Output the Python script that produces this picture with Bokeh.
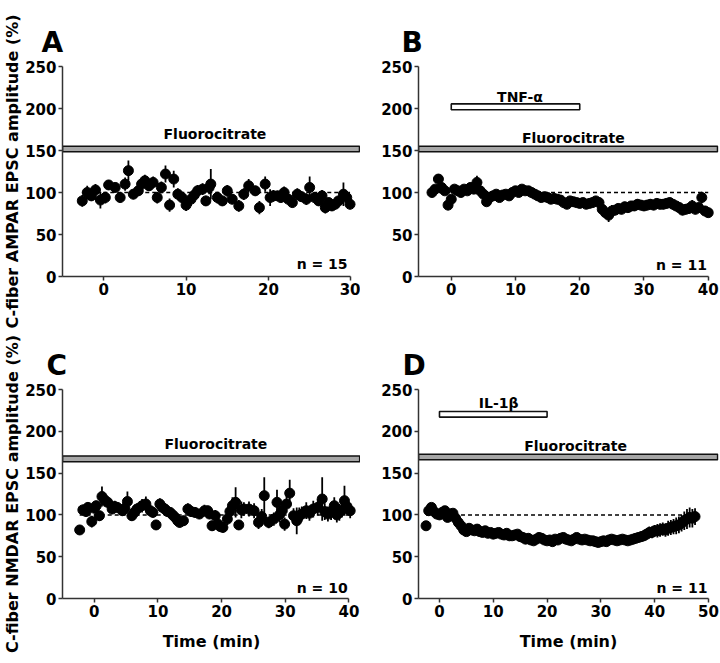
from bokeh.plotting import figure
from bokeh.layouts import column, row
from bokeh.models import FixedTicker, Label, Range1d
from bokeh.embed import file_html
from bokeh.resources import INLINE

FONT = "DejaVu Sans"

# ---------------- data ----------------
BASELINE = 100
Y_TICKS = [0, 50, 100, 150, 200, 250]

# Panel A: AMPAR, fluorocitrate only
tA = [-2.6, -2.0, -1.5, -1.0, -0.4, 0.2, 0.6, 1.4, 2.0, 2.6,
      3.0, 3.6, 4.2, 4.6, 5.0, 5.5, 6.0, 6.5, 7.0, 7.5,
      8.0, 8.5, 9.0, 9.5, 10.0, 10.6, 11.0, 11.4, 12.0, 12.4,
      12.8, 13.0, 13.8, 14.4, 15.0, 15.6, 16.4, 17.0, 17.6, 18.4,
      18.9, 19.6, 20.2, 20.6, 21.1, 21.5, 21.9, 22.4, 22.9, 23.5,
      24.0, 24.6, 25.0, 25.6, 26.1, 26.5, 26.9, 27.3, 27.7, 28.1,
      28.5, 29.1, 29.5, 29.9]
vA = [90, 100, 96, 103, 91, 94, 109, 106, 94, 110,
      126, 98, 102, 110, 114, 108, 112, 94, 106, 122,
      85, 116, 98, 94, 85, 92, 97, 102, 104, 90,
      106, 110, 94, 90, 102, 92, 84, 98, 108, 102,
      82, 110, 94, 96, 96, 94, 100, 92, 88, 98,
      95, 92, 106, 94, 90, 96, 82, 88, 84, 86,
      90, 98, 94, 86]
eA = [7, 8, 6, 7, 10, 7, 6, 6, 6, 8,
      12, 6, 6, 7, 7, 6, 7, 7, 7, 10,
      8, 10, 7, 6, 7, 8, 6, 7, 7, 6,
      8, 18, 7, 6, 7, 6, 7, 7, 8, 6,
      8, 9, 10, 7, 6, 6, 7, 6, 6, 7,
      6, 7, 13, 6, 6, 7, 7, 6, 6, 6,
      6, 14, 7, 6]

# Panel B: AMPAR, TNF-alpha under fluorocitrate
tB = [-3.0, -2.5, -2.0, -1.5, -1.0, -0.5, 0.0, 0.5, 1.0, 1.5,
      2.0, 2.5, 3.0, 3.5, 4.0, 4.5, 5.0, 5.5, 6.0, 6.5,
      7.0, 7.5, 8.0, 8.5, 9.0, 9.5, 10.0, 10.5, 11.0, 11.5,
      12.0, 12.5, 13.0, 13.5, 14.0, 14.5, 15.0, 15.5, 16.0, 16.5,
      17.0, 17.5, 18.0, 18.5, 19.0, 19.5, 20.0, 20.5, 21.0, 21.5,
      22.0, 22.5, 23.0, 23.5, 24.0, 24.5, 25.0, 25.5, 26.0, 26.5,
      27.0, 27.5, 28.0, 28.5, 29.0, 29.5, 30.0, 30.5, 31.0, 31.5,
      32.0, 32.5, 33.0, 33.5, 34.0, 34.5, 35.0, 35.5, 36.0, 36.5,
      37.0, 37.5, 38.0, 38.5, 39.0, 39.5, 40.0]
vB = [100, 104, 116, 106, 102, 85, 92, 104, 102, 100,
      104, 102, 106, 104, 112, 102, 98, 89, 94, 96,
      98, 94, 97, 98, 96, 100, 102, 100, 104, 102,
      102, 100, 98, 96, 94, 95, 94, 92, 93, 92,
      91, 88, 86, 90, 89, 88, 87, 88, 86, 87,
      88, 90, 88, 80, 76, 73, 78, 79, 81, 80,
      83, 82, 84, 84, 86, 85, 84, 85, 86, 85,
      87, 86, 86, 87, 88, 86, 84, 82, 79, 80,
      81, 84, 80, 82, 94, 78, 76]
eB = [5, 5, 6, 5, 5, 6, 5, 5, 5, 5,
      5, 5, 6, 5, 8, 5, 5, 5, 5, 5,
      5, 5, 5, 5, 5, 5, 5, 5, 5, 5,
      5, 5, 5, 5, 5, 5, 5, 5, 5, 5,
      5, 5, 5, 5, 5, 5, 5, 5, 5, 5,
      5, 5, 6, 6, 7, 8, 7, 6, 6, 6,
      6, 6, 6, 6, 6, 6, 6, 6, 6, 6,
      6, 6, 6, 6, 6, 6, 6, 6, 6, 6,
      6, 7, 6, 6, 7, 6, 5]

# Panel C: NMDAR, fluorocitrate only
tC = [-2.3, -1.8, -1.3, -1.0, -0.4, 0.0, 0.3, 0.8, 1.2, 1.6,
      2.1, 2.8, 3.2, 3.6, 4.4, 4.8, 5.2, 5.9, 6.3, 6.7,
      7.5, 8.1, 8.8, 9.2, 9.7, 10.3, 10.7, 11.1, 11.5, 11.9,
      12.3, 12.7, 13.1, 13.4, 14.0, 14.7, 15.2, 15.8, 16.5, 17.3,
      17.8, 18.1, 18.5, 19.0, 19.4, 19.8, 20.2, 20.9, 21.3, 21.7,
      22.2, 22.7, 23.1, 23.5, 24.3, 25.1, 25.8, 26.3, 26.7, 27.4,
      28.2, 28.7, 29.1, 29.5, 29.9, 30.2, 30.7, 31.3, 31.8, 32.2,
      32.6, 33.3, 33.8, 34.4, 35.1, 35.8, 36.2, 36.7, 37.2, 37.7,
      38.1, 38.5, 38.9, 39.3, 39.7, 40.2]
vC = [82, 106, 104, 109, 92, 108, 111, 99, 122, 118,
      115, 107, 110, 109, 105, 108, 116, 99, 103, 107,
      111, 113, 105, 103, 88, 113, 109, 107, 104, 103,
      100, 97, 93, 91, 93, 107, 104, 103, 101, 105,
      105, 101, 87, 99, 89, 86, 85, 95, 104, 111,
      115, 88, 106, 107, 107, 105, 91, 98, 123, 91,
      95, 115, 100, 105, 89, 113, 126, 99, 93, 99,
      101, 105, 102, 107, 109, 119, 104, 101, 104, 111,
      100, 103, 106, 117, 110, 105]
eC = [5, 6, 6, 6, 7, 6, 6, 6, 12, 8,
      7, 6, 7, 6, 6, 7, 12, 6, 6, 7,
      8, 9, 7, 6, 6, 7, 7, 6, 6, 6,
      6, 6, 6, 6, 6, 7, 6, 6, 6, 7,
      6, 6, 6, 7, 7, 6, 6, 7, 9, 10,
      18, 6, 10, 8, 9, 9, 8, 9, 22, 7,
      8, 15, 9, 10, 8, 10, 16, 9, 16, 10,
      9, 10, 9, 10, 10, 26, 10, 9, 10, 10,
      9, 10, 9, 18, 9, 9]

# Panel D: NMDAR, IL-1beta under fluorocitrate
tD = [-2.5, -2.0, -1.5, -1.0, -0.5, 0.0, 0.5, 1.0, 1.5, 2.0,
      2.5, 3.0, 3.5, 4.0, 4.5, 5.0, 5.5, 6.0, 6.5, 7.0,
      7.5, 8.0, 8.5, 9.0, 9.5, 10.0, 10.5, 11.0, 11.5, 12.0,
      12.5, 13.0, 13.5, 14.0, 14.5, 15.0, 15.5, 16.0, 16.5, 17.0,
      17.5, 18.0, 18.5, 19.0, 19.5, 20.0, 20.5, 21.0, 21.5, 22.0,
      22.5, 23.0, 23.5, 24.0, 24.5, 25.0, 25.5, 26.0, 26.5, 27.0,
      27.5, 28.0, 28.5, 29.0, 29.5, 30.0, 30.5, 31.0, 31.5, 32.0,
      32.5, 33.0, 33.5, 34.0, 34.5, 35.0, 35.5, 36.0, 36.5, 37.0,
      37.5, 38.0, 38.5, 39.0, 39.5, 40.0, 40.5, 41.0, 41.5, 42.0,
      42.5, 43.0, 43.5, 44.0, 44.5, 45.0, 45.5, 46.0, 46.5, 47.0,
      47.5]
vD = [87, 105, 109, 104, 101, 100, 103, 105, 97, 101,
      102, 96, 91, 87, 82, 80, 84, 82, 81, 83,
      80, 79, 81, 78, 79, 77, 78, 79, 77, 76,
      78, 75, 75, 76, 77, 74, 73, 71, 72, 70,
      69, 71, 73, 72, 70, 69, 70, 68, 71, 70,
      72, 73, 71, 70, 69, 71, 73, 71, 70, 71,
      70, 69, 69, 68, 67, 68, 69, 68, 70, 71,
      70, 69, 70, 71, 70, 69, 70, 71, 72, 73,
      74, 75, 77, 79, 79, 81, 81, 82, 83, 82,
      84, 85, 86, 87, 88, 90, 93, 95, 97, 96,
      98]
eD = [4, 5, 5, 5, 5, 5, 5, 5, 5, 5,
      5, 5, 5, 5, 5, 5, 5, 5, 5, 5,
      5, 5, 5, 5, 5, 5, 5, 5, 5, 5,
      5, 5, 5, 5, 5, 5, 5, 5, 5, 5,
      5, 5, 5, 5, 5, 5, 5, 5, 5, 5,
      5, 5, 5, 5, 5, 5, 5, 5, 5, 5,
      5, 5, 5, 5, 5, 5, 5, 5, 5, 5,
      5, 5, 5, 5, 5, 5, 5, 5, 5, 5,
      6, 6, 6, 7, 7, 7, 8, 8, 8, 8,
      9, 9, 9, 10, 10, 10, 11, 12, 12, 11,
      10]


def add_text(p, x, y, text, size, align="center"):
    p.add_layout(Label(x=x, y=y, text=text, text_align=align, text_baseline="alphabetic",
                       text_color="black", text_font=FONT, text_font_style="bold",
                       text_font_size=size))


def make_panel(t, v, err, x_start, x_end, x_ticks, x_lo, x_hi,
               w, h, bl, br, bt, bb, letter, letter_offset, letter_standoff,
               fluoro, fluoro_text_xy, n_text, n_xy,
               drug=None, drug_text=None, drug_text_xy=None,
               ylabel=None, xlabel=None):
    p = figure(width=w, height=h, output_backend="svg", toolbar_location=None,
               x_range=Range1d(x_start, x_end), y_range=Range1d(0, 250),
               min_border_left=bl, min_border_right=br,
               min_border_top=bt, min_border_bottom=bb)
    # panel letter as the title
    p.title.text = letter
    p.title.align = "left"
    p.title.offset = letter_offset
    p.title.text_font = FONT
    p.title.text_font_style = "bold"
    p.title.text_font_size = "28px"
    p.title.text_color = "black"
    p.title.standoff = letter_standoff
    p.outline_line_color = None
    p.grid.visible = False
    p.background_fill_color = "white"
    p.border_fill_color = "white"

    for ax in (p.xaxis[0], p.yaxis[0]):
        ax.axis_line_width = 1.5
        ax.axis_line_color = "#333333"
        ax.major_tick_line_color = "#333333"
        ax.major_tick_line_width = 1.5
        ax.major_tick_out = 4
        ax.major_tick_in = 0
        ax.minor_tick_line_color = None
        ax.major_label_text_font = FONT
        ax.major_label_text_font_style = "bold"
        ax.major_label_text_font_size = "15px"
        ax.major_label_text_color = "black"
        ax.major_label_standoff = 2
        ax.axis_label_text_font = FONT
        ax.axis_label_text_font_style = "bold"
        ax.axis_label_text_font_size = "16px"
        ax.axis_label_text_color = "black"
    p.xaxis.ticker = FixedTicker(ticks=x_ticks)
    p.yaxis.ticker = FixedTicker(ticks=Y_TICKS)
    p.xaxis.bounds = (x_lo, x_hi)
    p.yaxis.bounds = (0, 250)
    if ylabel is not None:
        p.yaxis.axis_label = ylabel
        p.yaxis.axis_label_standoff = 0
    if xlabel is not None:
        p.xaxis.axis_label = xlabel
        p.xaxis.axis_label_standoff = 12

    # reference line
    p.line(x=[min(t), max(t)], y=[BASELINE, BASELINE], line_color="black",
           line_width=1.5, line_dash="4 3")
    # error bars + means
    lo = [a - b for a, b in zip(v, err)]
    hi = [a + b for a, b in zip(v, err)]
    p.segment(x0=t, y0=lo, x1=t, y1=hi, line_color="black", line_width=1.8)
    p.scatter(x=t, y=v, size=10, fill_color="black", line_color="black")

    # fluorocitrate bar
    fx0, fx1, fy0, fy1 = fluoro
    p.quad(left=[fx0], right=[fx1], bottom=[fy0], top=[fy1],
           fill_color="#a6a6a6", line_color="#111111", line_width=1.6)
    add_text(p, fluoro_text_xy[0], fluoro_text_xy[1], "Fluorocitrate", "14px")
    if drug is not None:
        dx0, dx1, dy0, dy1 = drug
        p.quad(left=[dx0], right=[dx1], bottom=[dy0], top=[dy1],
               fill_color="white", line_color="#111111", line_width=1.6)
        add_text(p, drug_text_xy[0], drug_text_xy[1], drug_text, "14px")
    add_text(p, n_xy[0], n_xy[1], n_text, "14px", align="right")
    return p


pA = make_panel(tA, vA, eA, -5, 31.17, [0, 10, 20, 30], -5, 30,
                360, 330, 58, 0, 66, 54, "A", -21, 15,
                (-5, 31.05, 148.5, 155), (13.5, 170), "n = 15", (29.6, 15),
                ylabel="C-fiber AMPAR EPSC amplitude (%)")
pB = make_panel(tB, vB, eB, -5.1, 41.6, [0, 10, 20, 30, 40], -5.1, 40,
                360, 330, 58, 2, 66, 54, "B", -17, 15,
                (-5.1, 41.45, 148.5, 155), (19, 165), "n = 11", (39.8, 14),
                drug=(0, 20, 198.5, 205.5), drug_text="TNF-\u03b1", drug_text_xy=(10.7, 214))
pC = make_panel(tC, vC, eC, -5, 41.82, [0, 10, 20, 30, 40], -5, 40,
                360, 333, 58, 0, 59, 65, "C", -16, 16,
                (-5, 41.7, 163.5, 170.5), (19.1, 185), "n = 10", (39.8, 12),
                ylabel="C-fiber NMDAR EPSC amplitude (%)", xlabel="Time (min)")
pD = make_panel(tD, vD, eD, -3.9, 51.86, [0, 10, 20, 30, 40, 50], -3.9, 50,
                360, 333, 58, 2, 59, 65, "D", -16, 16,
                (-3.9, 51.7, 166, 172.5), (25.3, 183), "n = 11", (49.8, 13),
                drug=(0, 20, 217, 223.7), drug_text="IL-1\u03b2", drug_text_xy=(11, 234),
                xlabel="Time (min)")

layout = column(row(pA, pB), row(pC, pD))
open("out.html", "w").write(file_html(layout, INLINE))
